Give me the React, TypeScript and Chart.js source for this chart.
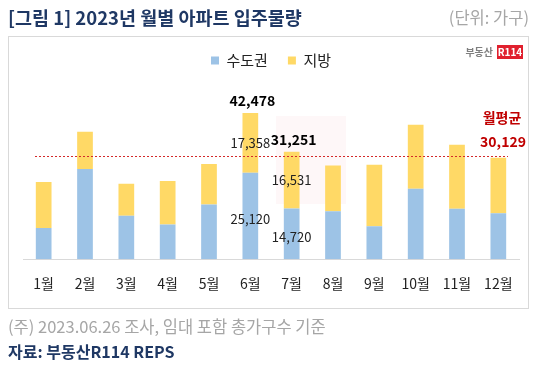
import React, { useEffect, useRef } from "react";
import { Chart, registerables } from "chart.js";

Chart.register(...registerables);

const months = ["1월", "2월", "3월", "4월", "5월", "6월", "7월", "8월", "9월", "10월", "11월", "12월"];
const seriesNames = ["수도권", "지방"];
const capitalArea = [9100, 26200, 12600, 10100, 15900, 25120, 14720, 13970, 9600, 20460, 14640, 13380];
const provinces = [13300, 10840, 9300, 12600, 11740, 17358, 16531, 13280, 17840, 18620, 18620, 16100];
const monthlyAverage = 30129;
const labelledMonths = [5, 6];

const titleText = "[그림 1] 2023년 월별 아파트 입주물량";
const unitText = "(단위: 가구)";
const noteText = "(주) 2023.06.26 조사, 임대 포함 총가구수 기준";
const sourceText = "자료: 부동산R114 REPS";
const averageTitle = "월평균";

const FONT = "'Noto Sans CJK KR', 'Noto Sans', sans-serif";
const BLUE = "#9dc3e6";
const YELLOW = "#ffd966";
const NAVY = "#1f3864";
const RED = "#c00000";

const fmt = (v: number) => v.toLocaleString("en-US");

const decorPlugin = {
  id: "decor",
  beforeDraw(chart: any) {
    const { ctx, width, height } = chart;
    ctx.save();
    ctx.fillStyle = "#ffffff";
    ctx.fillRect(0, 0, width, height);
    // box
    ctx.strokeStyle = "#d9d9d9";
    ctx.lineWidth = 1;
    ctx.strokeRect(8.5, 36.5, 520, 272);
    // title
    ctx.textBaseline = "middle";
    ctx.textAlign = "left";
    ctx.fillStyle = NAVY;
    ctx.font = `bold 18.5px ${FONT}`;
    ctx.fillText(titleText, 8, 18);
    ctx.textAlign = "right";
    ctx.fillStyle = "#a6a6a6";
    ctx.font = `16.5px ${FONT}`;
    ctx.fillText(unitText, 529, 18);
    // footer
    ctx.textAlign = "left";
    ctx.fillStyle = "#a6a6a6";
    ctx.font = `16.5px ${FONT}`;
    ctx.fillText(noteText, 8, 327);
    ctx.fillStyle = NAVY;
    ctx.font = `bold 16px ${FONT}`;
    ctx.fillText(sourceText, 8, 352);
    // logo
    ctx.fillStyle = "#e0202e";
    ctx.fillRect(497, 45, 26, 14);
    ctx.fillStyle = "#ffffff";
    ctx.font = `bold 10px ${FONT}`;
    ctx.textAlign = "center";
    ctx.fillText("R114", 510, 52.5);
    ctx.fillStyle = "#7f7f7f";
    ctx.font = `bold 10px ${FONT}`;
    ctx.textAlign = "right";
    ctx.fillText("부동산", 493, 52.5);
    // faint watermark
    ctx.fillStyle = "rgba(240, 120, 130, 0.06)";
    ctx.fillRect(276, 116, 70, 88);
    ctx.restore();
  },
  afterDatasetsDraw(chart: any) {
    const { ctx, chartArea, scales } = chart;
    const y = Math.round(scales.y.getPixelForValue(monthlyAverage)) + 0.5;
    ctx.save();
    ctx.strokeStyle = "#d42a2a";
    ctx.lineWidth = 1;
    ctx.setLineDash([2, 2]);
    ctx.beginPath();
    ctx.moveTo(chartArea.left + 12, y);
    ctx.lineTo(chartArea.right - 11, y);
    ctx.stroke();
    ctx.setLineDash([]);
    ctx.textAlign = "center";
    ctx.textBaseline = "middle";
    ctx.fillStyle = RED;
    ctx.font = `bold 14px ${FONT}`;
    ctx.fillText(averageTitle, 502, 118);
    ctx.fillText(fmt(monthlyAverage), 503, 142);

    const m0 = chart.getDatasetMeta(0);
    const m1 = chart.getDatasetMeta(1);
    labelledMonths.forEach((i) => {
      const b0 = m0.data[i];
      const b1 = m1.data[i];
      ctx.fillStyle = "#222222";
      ctx.font = `13px ${FONT}`;
      ctx.fillText(fmt(capitalArea[i]), b0.x, (b0.y + b0.base) / 2 + 3);
      ctx.fillText(fmt(provinces[i]), b1.x, (b1.y + b1.base) / 2);
      ctx.fillStyle = "#000000";
      ctx.font = `bold 14px ${FONT}`;
      ctx.fillText(fmt(capitalArea[i] + provinces[i]), b1.x + 2, b1.y - 12);
    });
    ctx.restore();
  },
};

export default function App() {
  const ref = useRef<HTMLCanvasElement | null>(null);
  useEffect(() => {
    if (!ref.current) return;
    const chart = new Chart(ref.current, {
      type: "bar",
      data: {
        labels: months,
        datasets: [
          { label: seriesNames[0], data: capitalArea, backgroundColor: BLUE, barPercentage: 0.38, categoryPercentage: 1 },
          { label: seriesNames[1], data: provinces, backgroundColor: YELLOW, barPercentage: 0.38, categoryPercentage: 1 },
        ],
      },
      options: {
        responsive: false,
        animation: false,
        devicePixelRatio: 1,
        layout: { padding: { top: 33, left: 23, right: 21, bottom: 58 } },
        plugins: {
          tooltip: { enabled: false },
          legend: {
            display: true,
            position: "top",
            labels: {
              boxWidth: 8,
              boxHeight: 8,
              padding: 20,
              color: "#222222",
              font: { family: FONT, size: 15 },
            },
          },
        },
        scales: {
          x: {
            stacked: true,
            grid: { display: false, drawTicks: false },
            border: { display: true, color: "#d9d9d9" },
            ticks: { color: "#222222", padding: 16, font: { family: FONT, size: 14 } },
          },
          y: {
            stacked: true,
            display: false,
            min: 0,
            max: 52660,
          },
        },
      },
      plugins: [decorPlugin],
    });
    return () => chart.destroy();
  }, []);
  return (
    <div style={{ position: "fixed", left: 0, top: 0, width: 540, height: 366 }}>
      <canvas ref={ref} width={540} height={366} style={{ width: 540, height: 366, display: "block" }} />
    </div>
  );
}
